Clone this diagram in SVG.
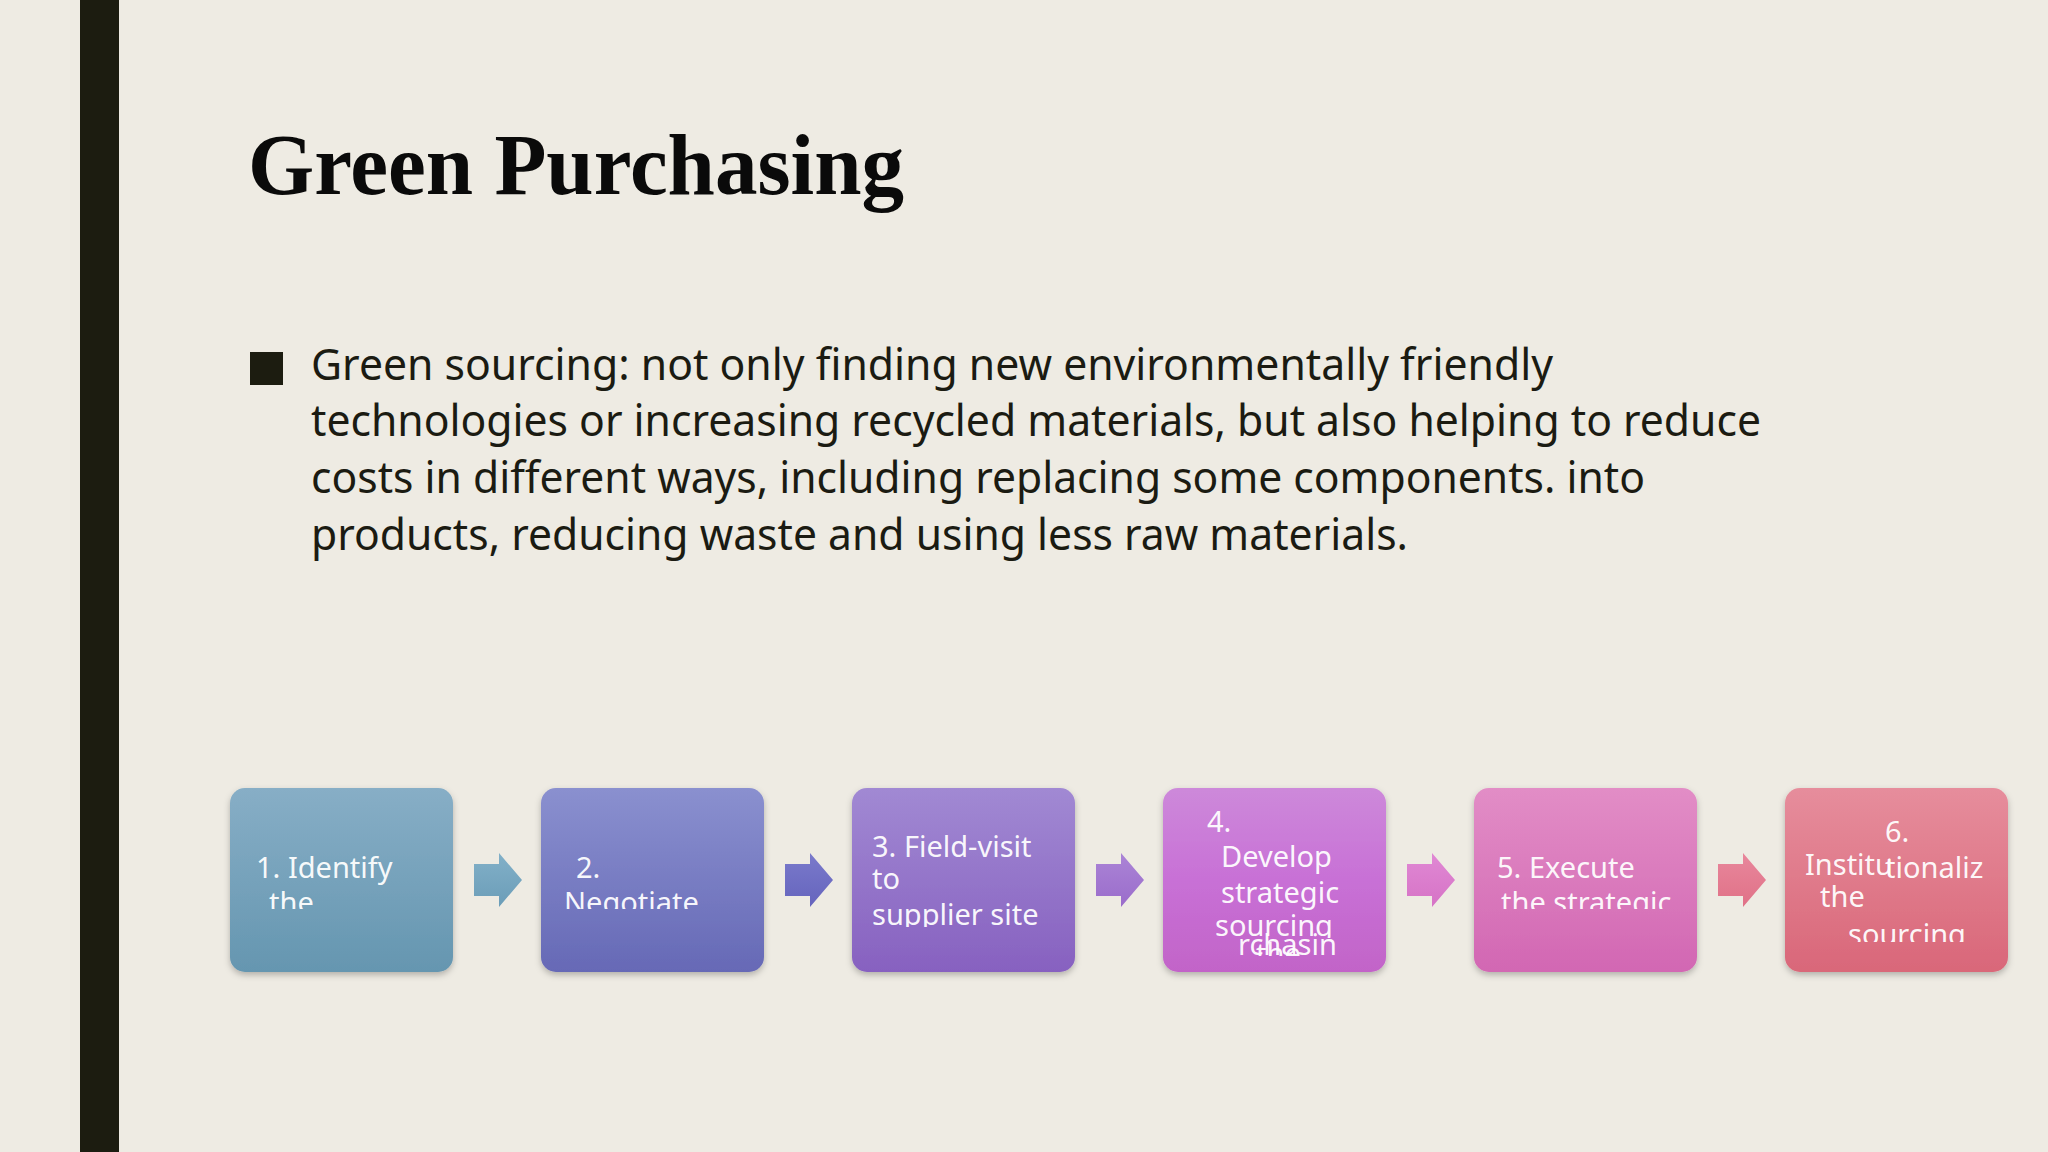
<svg xmlns="http://www.w3.org/2000/svg" width="2048" height="1152" viewBox="0 0 2048 1152">
<style>
.title{font-family:"Liberation Serif","Times New Roman",serif;font-weight:bold;font-size:86px;fill:#0a0a0a}
.body{font-family:"Noto Sans","Open Sans",sans-serif;font-size:44px;fill:#1b1b12}
.lbl{font-family:"Noto Sans","Open Sans",sans-serif;font-size:29px;fill:#ffffff;fill-opacity:0.96}
.box{filter:url(#sh)}
</style>
<defs>
<filter id="sh" x="-10%" y="-10%" width="120%" height="125%">
<feDropShadow dx="0" dy="3" stdDeviation="3" flood-color="#000" flood-opacity="0.25"/>
</filter>
<linearGradient id="g1" x1="0" y1="0" x2="0" y2="1"><stop offset="0" stop-color="#87aec6"/><stop offset="1" stop-color="#6596b0"/></linearGradient>
<linearGradient id="g2" x1="0" y1="0" x2="0" y2="1"><stop offset="0" stop-color="#8a90cf"/><stop offset="1" stop-color="#6669b6"/></linearGradient>
<linearGradient id="g3" x1="0" y1="0" x2="0" y2="1"><stop offset="0" stop-color="#a189d3"/><stop offset="1" stop-color="#8761c0"/></linearGradient>
<linearGradient id="g4" x1="0" y1="0" x2="0" y2="1"><stop offset="0" stop-color="#cd89da"/><stop offset="0.5" stop-color="#c870d6"/><stop offset="1" stop-color="#c264c8"/></linearGradient>
<linearGradient id="g5" x1="0" y1="0" x2="0" y2="1"><stop offset="0" stop-color="#e28dc6"/><stop offset="1" stop-color="#d267b3"/></linearGradient>
<linearGradient id="g6" x1="0" y1="0" x2="0" y2="1"><stop offset="0" stop-color="#e68d9c"/><stop offset="1" stop-color="#d96779"/></linearGradient>
<linearGradient id="a1" x1="0" y1="0" x2="0" y2="1"><stop offset="0" stop-color="#82b0c8"/><stop offset="1" stop-color="#6b9db8"/></linearGradient>
<linearGradient id="a2" x1="0" y1="0" x2="0" y2="1"><stop offset="0" stop-color="#7a7acb"/><stop offset="1" stop-color="#6564bd"/></linearGradient>
<linearGradient id="a3" x1="0" y1="0" x2="0" y2="1"><stop offset="0" stop-color="#ab84d6"/><stop offset="1" stop-color="#9a6ccb"/></linearGradient>
<linearGradient id="a4" x1="0" y1="0" x2="0" y2="1"><stop offset="0" stop-color="#e088d4"/><stop offset="1" stop-color="#d673c6"/></linearGradient>
<linearGradient id="a5" x1="0" y1="0" x2="0" y2="1"><stop offset="0" stop-color="#e8879c"/><stop offset="1" stop-color="#e07187"/></linearGradient>
<clipPath id="c1"><rect x="230" y="788" width="223" height="121"/></clipPath>
<clipPath id="c2"><rect x="541" y="788" width="223" height="121"/></clipPath>
<clipPath id="c3"><rect x="852" y="788" width="223" height="139"/></clipPath>
<clipPath id="c4a"><rect x="1163" y="788" width="223" height="150"/></clipPath>
<clipPath id="c4b"><rect x="1163" y="788" width="223" height="168"/></clipPath>
<clipPath id="c5"><rect x="1474" y="788" width="223" height="121"/></clipPath>
<clipPath id="c6"><rect x="1785" y="788" width="223" height="154"/></clipPath>
</defs>
<rect x="0" y="0" width="2048" height="1152" fill="#eeebe3"/>
<rect x="80" y="0" width="39" height="1152" fill="#1c1c10"/>
<text class="title" x="248" y="194" textLength="656" lengthAdjust="spacingAndGlyphs">Green Purchasing</text>
<rect x="250" y="352" width="33" height="33" fill="#1c1c10"/>
<text class="body" x="311" y="380" textLength="1242" lengthAdjust="spacingAndGlyphs">Green sourcing: not only finding new environmentally friendly</text>
<text class="body" x="311" y="436" textLength="1450" lengthAdjust="spacingAndGlyphs">technologies or increasing recycled materials, but also helping to reduce</text>
<text class="body" x="311" y="493" textLength="1334" lengthAdjust="spacingAndGlyphs">costs in different ways, including replacing some components. into</text>
<text class="body" x="311" y="550" textLength="1097" lengthAdjust="spacingAndGlyphs">products, reducing waste and using less raw materials.</text>
<g id="connectors">
<polygon fill="url(#a1)" points="474,864 499,864 499,853 522,880 499,907 499,896 474,896"/>
<polygon fill="url(#a2)" points="785,864 810,864 810,853 833,880 810,907 810,896 785,896"/>
<polygon fill="url(#a3)" points="1096,864 1121,864 1121,853 1144,880 1121,907 1121,896 1096,896"/>
<polygon fill="url(#a4)" points="1407,864 1432,864 1432,853 1455,880 1432,907 1432,896 1407,896"/>
<polygon fill="url(#a5)" points="1718,864 1743,864 1743,853 1766,880 1743,907 1743,896 1718,896"/>
</g>
<g id="node1">
<rect class="box" x="230" y="788" width="223" height="184" rx="15" fill="url(#g1)"/>
<text class="lbl" x="256" y="878">1. Identify</text>
<text class="lbl" x="269" y="913" clip-path="url(#c1)">the</text>
</g>
<g id="node2">
<rect class="box" x="541" y="788" width="223" height="184" rx="15" fill="url(#g2)"/>
<text class="lbl" x="576" y="878">2.</text>
<text class="lbl" x="564" y="913" clip-path="url(#c2)">Negotiate</text>
</g>
<g id="node3">
<rect class="box" x="852" y="788" width="223" height="184" rx="15" fill="url(#g3)"/>
<text class="lbl" x="872" y="857">3. Field-visit</text>
<text class="lbl" x="872" y="889">to</text>
<text class="lbl" x="872" y="925" clip-path="url(#c3)">supplier site</text>
</g>
<g id="node4">
<rect class="box" x="1163" y="788" width="223" height="184" rx="15" fill="url(#g4)"/>
<text class="lbl" x="1207" y="832">4.</text>
<text class="lbl" x="1221" y="867">Develop</text>
<text class="lbl" x="1221" y="903">strategic</text>
<text class="lbl" x="1215" y="936" clip-path="url(#c4a)">sourcing</text>
<text class="lbl" x="1238" y="955">rchasin</text>
<text class="lbl" x="1256" y="964" clip-path="url(#c4b)">the</text>
</g>
<g id="node5">
<rect class="box" x="1474" y="788" width="223" height="184" rx="15" fill="url(#g5)"/>
<text class="lbl" x="1497" y="878">5. Execute</text>
<text class="lbl" x="1501" y="913" clip-path="url(#c5)">the strategic</text>
</g>
<g id="node6">
<rect class="box" x="1785" y="788" width="223" height="184" rx="15" fill="url(#g6)"/>
<text class="lbl" x="1885" y="842">6.</text>
<text class="lbl" x="1805" y="875">Institu</text>
<text class="lbl" x="1885" y="878">tionaliz</text>
<text class="lbl" x="1820" y="907">the</text>
<text class="lbl" x="1848" y="945" clip-path="url(#c6)">sourcing</text>
</g>
</svg>
